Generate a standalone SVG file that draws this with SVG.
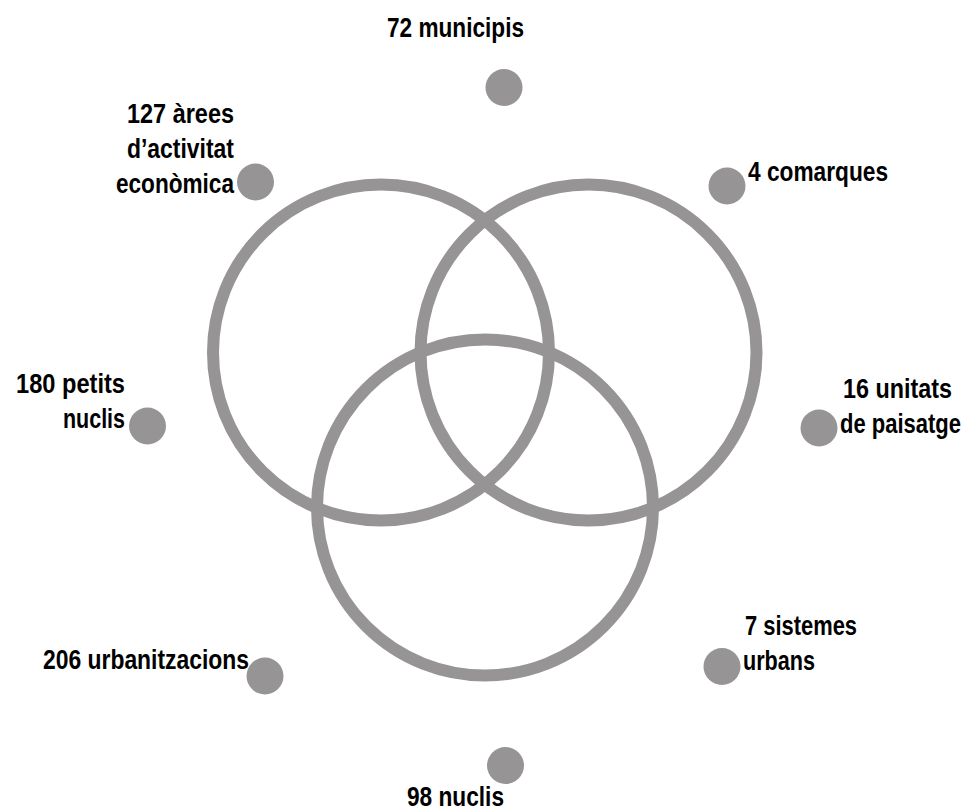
<svg xmlns="http://www.w3.org/2000/svg" width="970" height="811" viewBox="0 0 970 811">
<style>
.ring{fill:none;stroke:#969495;stroke-width:12}
.dot{fill:#969495}
.lbl{font-family:"Liberation Sans","Arial",sans-serif;font-weight:bold;font-size:28px;fill:#000}
.e{text-anchor:end}
</style>
<rect width="970" height="811" fill="#fff"/>
<g id="venn">
<circle class="ring" cx="381" cy="352.5" r="168"/>
<circle class="ring" cx="588.5" cy="352.5" r="168"/>
<circle class="ring" cx="485" cy="507.5" r="168"/>
</g>
<g id="municipis"><circle class="dot" cx="504" cy="87.5" r="18.5"/><text class="lbl" x="387" y="37" textLength="137" lengthAdjust="spacingAndGlyphs">72 municipis</text></g>
<g id="arees"><circle class="dot" cx="255.5" cy="182" r="18.5"/><text class="lbl e" x="234" y="123" textLength="107" lengthAdjust="spacingAndGlyphs">127 àrees</text><text class="lbl e" x="234" y="158" textLength="107" lengthAdjust="spacingAndGlyphs">d’activitat</text><text class="lbl e" x="234" y="193" textLength="118" lengthAdjust="spacingAndGlyphs">econòmica</text></g>
<g id="comarques"><circle class="dot" cx="727" cy="186" r="18.5"/><text class="lbl" x="748" y="181" textLength="140" lengthAdjust="spacingAndGlyphs">4 comarques</text></g>
<g id="paisatge"><circle class="dot" cx="819" cy="428" r="18.5"/><text class="lbl" x="843" y="398" textLength="109" lengthAdjust="spacingAndGlyphs">16 unitats</text><text class="lbl" x="840" y="433" textLength="121" lengthAdjust="spacingAndGlyphs">de paisatge</text></g>
<g id="petits"><circle class="dot" cx="147.5" cy="426" r="18.5"/><text class="lbl e" x="125" y="393" textLength="109" lengthAdjust="spacingAndGlyphs">180 petits</text><text class="lbl e" x="125" y="428" textLength="62" lengthAdjust="spacingAndGlyphs">nuclis</text></g>
<g id="urbanitzacions"><circle class="dot" cx="265" cy="676" r="18.5"/><text class="lbl e" x="249" y="669" textLength="206" lengthAdjust="spacingAndGlyphs">206 urbanitzacions</text></g>
<g id="sistemes"><circle class="dot" cx="722" cy="666.5" r="18.5"/><text class="lbl" x="745" y="635" textLength="112" lengthAdjust="spacingAndGlyphs">7 sistemes</text><text class="lbl" x="743" y="670" textLength="72" lengthAdjust="spacingAndGlyphs">urbans</text></g>
<g id="nuclis"><circle class="dot" cx="505.5" cy="765.5" r="18.5"/><text class="lbl" x="407" y="806" textLength="97" lengthAdjust="spacingAndGlyphs">98 nuclis</text></g>
</svg>
